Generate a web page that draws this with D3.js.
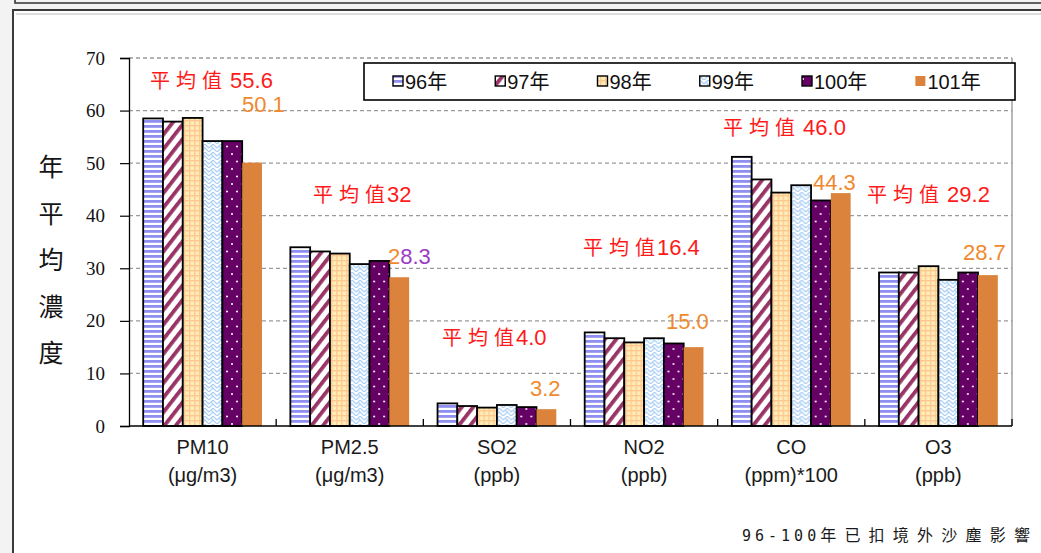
<!DOCTYPE html>
<html>
<head>
<meta charset="utf-8">
<script src="https://cdn.jsdelivr.net/npm/d3@7"></script>
<style>
  html, body { margin: 0; padding: 0; background: #f3f3f3; }
  svg { display: block; }
</style>
</head>
<body>
<svg id="chart" width="1041" height="553"></svg>
<script>
// Pollutant categories (two-line axis labels)
const categories = ["PM10", "PM2.5", "SO2", "NO2", "CO", "O3"];
const categoryUnits = ["(μg/m3)", "(μg/m3)", "(ppb)", "(ppb)", "(ppm)*100", "(ppb)"];
const years = ["96年", "97年", "98年", "99年", "100年", "101年"];

// Annual mean concentration per year, one array per category
const pm10 = [58.5, 57.9, 58.6, 54.2, 54.2, 50.1];
const pm25 = [34.0, 33.2, 32.8, 30.8, 31.4, 28.3];
const so2  = [4.3, 3.8, 3.5, 4.0, 3.6, 3.2];
const no2  = [17.8, 16.7, 15.9, 16.7, 15.7, 15.0];
const co   = [51.2, 46.9, 44.4, 45.8, 42.9, 44.3];
const o3   = [29.2, 29.2, 30.4, 27.8, 29.2, 28.7];
const seriesByCategory = [pm10, pm25, so2, no2, co, o3];

// Stated multi-year averages
const averages = ["55.6", "32", "4.0", "16.4", "46.0", "29.2"];
const averageGap = [" ", "", "", "", " ", " "];

const yTicks = [0, 10, 20, 30, 40, 50, 60, 70];
const footnote = ["96-100", "年已扣境外沙塵影響"];

// Annotation placement (left x, baseline y) for the average and latest-year labels
const avgLabelPos = [[150, 88], [313, 202], [442, 345], [583, 255], [723, 135], [867, 202]];
const lastLabelPos = [[242, 112], [388, 264], [530, 396], [666, 329], [813, 190], [963, 260]];

const svg = d3.select("#chart");
const W = 1041, H = 553;

// ---- page frame ----
svg.append("rect").attr("x", 0).attr("y", 0).attr("width", W).attr("height", H).attr("fill", "#f3f3f3");
svg.append("rect").attr("x", 13).attr("y", 10).attr("width", W + 20).attr("height", H + 20)
  .attr("fill", "#ffffff").attr("stroke", "#3a3a3a").attr("stroke-width", 2);
svg.append("path").attr("d", `M15,-2 V3 H${W + 5}`).attr("fill", "none")
  .attr("stroke", "#333").attr("stroke-width", 1.6);
svg.append("path").attr("d", `M16,14 H${W + 5}`).attr("fill", "none")
  .attr("stroke", "#bbb").attr("stroke-width", 1);

// ---- fill patterns ----
const defs = svg.append("defs");
const p96 = defs.append("pattern").attr("id", "p96").attr("patternUnits", "userSpaceOnUse")
  .attr("width", 6).attr("height", 5);
p96.append("rect").attr("width", 6).attr("height", 5).attr("fill", "#ffffff");
p96.append("rect").attr("y", 0).attr("width", 6).attr("height", 2.8).attr("fill", "#8f8ff0");

const p97 = defs.append("pattern").attr("id", "p97").attr("patternUnits", "userSpaceOnUse")
  .attr("width", 9).attr("height", 9).attr("patternTransform", "rotate(38)");
p97.append("rect").attr("width", 9).attr("height", 9).attr("fill", "#ffffff");
p97.append("rect").attr("x", 0).attr("width", 3.8).attr("height", 9).attr("fill", "#993366");

const p98 = defs.append("pattern").attr("id", "p98").attr("patternUnits", "userSpaceOnUse")
  .attr("width", 5).attr("height", 5);
p98.append("rect").attr("width", 5).attr("height", 5).attr("fill", "#ffedb8");
p98.append("rect").attr("x", 0).attr("width", 1.4).attr("height", 5).attr("fill", "#ffc890");
p98.append("rect").attr("y", 0).attr("width", 5).attr("height", 1.4).attr("fill", "#ffc890");

const p99 = defs.append("pattern").attr("id", "p99").attr("patternUnits", "userSpaceOnUse")
  .attr("width", 8).attr("height", 8);
p99.append("rect").attr("width", 8).attr("height", 8).attr("fill", "#ffffff");
p99.append("path").attr("d", "M0,4 L4,0 L8,4 M0,8 L4,4 L8,8 M2,2 L4,4 M6,6 L8,8")
  .attr("fill", "none").attr("stroke", "#a6cdf5").attr("stroke-width", 1.1);

const p100 = defs.append("pattern").attr("id", "p100").attr("patternUnits", "userSpaceOnUse")
  .attr("width", 10).attr("height", 15);
p100.append("rect").attr("width", 10).attr("height", 15).attr("fill", "#650064");
p100.append("circle").attr("cx", 3).attr("cy", 4).attr("r", 1).attr("fill", "#ffffff");
p100.append("circle").attr("cx", 8).attr("cy", 11.5).attr("r", 1).attr("fill", "#ffffff");

const fills = ["url(#p96)", "url(#p97)", "url(#p98)", "url(#p99)", "url(#p100)", "#db833c"];
const strokes = ["#000", "#000", "#000", "#000", "#000", "none"];

// ---- scales ----
const plot = { left: 129, right: 1012, top: 58, bottom: 426 };
const x0 = d3.scaleBand().domain(categories).range([plot.left, plot.right]).padding(0);
const x1 = d3.scaleBand().domain(years).range([0, x0.bandwidth()]).paddingInner(0).paddingOuter(0.717);
const y = d3.scaleLinear().domain([0, 70]).range([plot.bottom, plot.top]);

// ---- gridlines ----
svg.append("g").selectAll("line").data(yTicks.filter(t => t > 0)).join("line")
  .attr("x1", plot.left).attr("x2", plot.right)
  .attr("y1", d => y(d)).attr("y2", d => y(d))
  .attr("stroke", "#9a9a9a").attr("stroke-width", 1.3).attr("stroke-dasharray", "4,3");
svg.append("line").attr("x1", plot.right).attr("x2", plot.right)
  .attr("y1", plot.top).attr("y2", plot.bottom).attr("stroke", "#8a8a8a").attr("stroke-width", 1.2);

// ---- bars ----
const groups = svg.append("g").selectAll("g").data(categories).join("g")
  .attr("transform", d => `translate(${x0(d)},0)`);
groups.selectAll("rect")
  .data((c, ci) => years.map((yr, i) => ({ yr, i, v: seriesByCategory[ci][i] })))
  .join("rect")
  .attr("x", d => x1(d.yr))
  .attr("y", d => y(d.v))
  .attr("width", x1.bandwidth())
  .attr("height", d => y(0) - y(d.v))
  .attr("fill", d => fills[d.i])
  .attr("stroke", d => strokes[d.i])
  .attr("stroke-width", 1.8);

// ---- axes ----
const yAxis = d3.axisLeft(y).tickValues(yTicks).tickSize(9).tickPadding(15);
const gy = svg.append("g").attr("transform", `translate(${plot.left},0)`).call(yAxis);
gy.select(".domain").attr("stroke", "#000").attr("stroke-width", 1.3);
gy.selectAll(".tick line").attr("stroke", "#000").attr("stroke-width", 1.2);
gy.selectAll(".tick text").attr("font-family", "'Liberation Serif', serif")
  .attr("font-size", 19).attr("fill", "#111");

// x axis baseline and category separators (inward ticks)
svg.append("line").attr("x1", plot.left).attr("x2", plot.right)
  .attr("y1", plot.bottom).attr("y2", plot.bottom).attr("stroke", "#000").attr("stroke-width", 1.5);
svg.append("g").selectAll("line").data(categories.slice(1).concat(["__end"])).join("line")
  .attr("x1", d => d === "__end" ? plot.right : x0(d))
  .attr("x2", d => d === "__end" ? plot.right : x0(d))
  .attr("y1", plot.bottom).attr("y2", plot.bottom - 7)
  .attr("stroke", "#000").attr("stroke-width", 1.3);

// category labels
const catLabels = svg.append("g").attr("font-family", "'Liberation Sans', Arial, sans-serif")
  .attr("font-size", 20).attr("fill", "#1a1a1a").attr("text-anchor", "middle");
categories.forEach((c, i) => {
  const cx = x0(c) + x0.bandwidth() / 2;
  catLabels.append("text").attr("x", cx).attr("y", 454).text(c);
  catLabels.append("text").attr("x", cx).attr("y", 482).text(categoryUnits[i]);
});

// y axis title, stacked vertically
const yTitle = "年平均濃度".split("");
svg.append("g").selectAll("text").data(yTitle).join("text")
  .attr("x", 51).attr("y", (d, i) => 176 + i * 46.5)
  .attr("text-anchor", "middle")
  .attr("font-family", "'Noto Sans CJK TC', sans-serif").attr("font-size", 25)
  .attr("fill", "#151515").text(d => d);

// ---- average labels ----
const avgG = svg.append("g").attr("fill", "#ff1a1a");
categories.forEach((c, i) => {
  const t = avgG.append("text").attr("x", avgLabelPos[i][0]).attr("y", avgLabelPos[i][1]);
  "平均值".split("").forEach((ch, k) => {
    t.append("tspan").attr("font-family", "'Noto Sans CJK TC', sans-serif")
      .attr("font-size", 20).attr("dx", k === 0 ? 0 : 6).text(ch);
  });
  t.append("tspan").attr("font-family", "'Liberation Sans', Arial, sans-serif")
    .attr("font-size", 22).attr("dx", 2).text(averageGap[i] + averages[i]);
});

// ---- latest-year value labels ----
const lastColor = "#f0892e";
const lastG = svg.append("g").attr("font-family", "'Liberation Sans', Arial, sans-serif")
  .attr("font-size", 22);
categories.forEach((c, i) => {
  const label = seriesByCategory[i][5].toFixed(1);
  const t = lastG.append("text").attr("x", lastLabelPos[i][0]).attr("y", lastLabelPos[i][1]);
  if (c === "PM2.5") {
    t.append("tspan").attr("fill", lastColor).text(label.slice(0, 1));
    t.append("tspan").attr("fill", "#9b3bc4").text(label.slice(1));
  } else {
    t.attr("fill", lastColor).text(label);
  }
});

// ---- legend ----
const lg = svg.append("g");
lg.append("rect").attr("x", 364).attr("y", 63).attr("width", 651).attr("height", 37)
  .attr("fill", "#fff").attr("stroke", "#000").attr("stroke-width", 1.6);
let lx = 393;
years.forEach((yr, i) => {
  lg.append("rect").attr("x", lx).attr("y", 76).attr("width", 10).attr("height", 10)
    .attr("fill", fills[i]).attr("stroke", strokes[i]).attr("stroke-width", 1.4);
  const t = lg.append("text").attr("x", lx + 12).attr("y", 89)
    .attr("font-family", "'Liberation Sans', 'Noto Sans CJK TC', sans-serif")
    .attr("font-size", 20).attr("fill", "#111").text(yr);
  lx += 12 + t.node().getComputedTextLength() + 48;
});

// ---- footnote ----
const fn = svg.append("text").attr("x", 742).attr("y", 541).attr("fill", "#1a1a1a");
fn.append("tspan").attr("font-family", "'DejaVu Sans Mono', monospace").attr("font-size", 15)
  .attr("letter-spacing", 4).text(footnote[0]);
footnote[1].split("").forEach((ch, k) => {
  fn.append("tspan").attr("font-family", "'Noto Sans CJK TC', sans-serif").attr("font-size", 16)
    .attr("dx", k === 0 ? 0 : 8.2).text(ch);
});
</script>
</body>
</html>
